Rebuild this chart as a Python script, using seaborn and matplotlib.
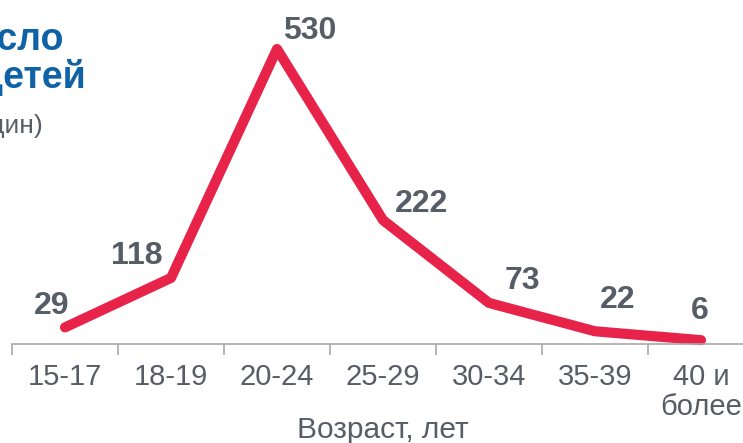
import numpy as np
import pandas as pd
import seaborn as sns
import matplotlib.pyplot as plt

# Age groups and births (thousands)
age_groups = ["15-17", "18-19", "20-24", "25-29", "30-34", "35-39", "40 и\nболее"]
births = [29, 118, 530, 222, 73, 22, 6]

# label offsets in pixels relative to each point
label_dx = [-13, -34, 33, 39, 33, 23, -1]
label_dy = [21, 22, 18, 16, 22, 31, 29]

RED = "#E8234A"
GREY = "#565D66"
BLUE = "#0F62A6"

sns.set_theme(style="white")
plt.rcParams["font.family"] = ["Liberation Sans", "DejaVu Sans"]

W, H = 743, 443
fig = plt.figure(figsize=(W / 100, H / 100), dpi=100)
ax = fig.add_axes([12 / W, 1 - 343.5 / H, 742 / W, 333.4 / H])

df = pd.DataFrame({"age": age_groups, "births": births})
sns.lineplot(data=df, x="age", y="births", ax=ax, color=RED, linewidth=7.3,
             sort=False, clip_on=False, solid_capstyle="round", solid_joinstyle="round")

for i, v in enumerate(births):
    ax.annotate(str(v), (i, v), xytext=(label_dx[i], label_dy[i]),
                textcoords="offset pixels", ha="center", va="center",
                fontsize=23, fontweight="bold", color=GREY)

ax.set_xlim(-0.5, 6.5)
ax.set_ylim(0, 600)
ax.set_yticks([])
ax.set_ylabel("")
for s in ["top", "left", "right"]:
    ax.spines[s].set_visible(False)
ax.spines["bottom"].set_color("#A8A8A8")
ax.spines["bottom"].set_linewidth(1.2)

ax.set_xticks(range(len(age_groups)))
ax.set_xticklabels(age_groups, linespacing=1.1)
ax.set_xticks(np.arange(-0.5, 7, 1), minor=True)
ax.tick_params(axis="x", which="major", length=0, pad=14, labelsize=21, labelcolor=GREY)
ax.tick_params(axis="x", which="minor", length=8, width=1.2, color="#A8A8A8", direction="out", bottom=True)

ax.set_xlabel("Возраст, лет", fontsize=21.5, color=GREY)
ax.xaxis.set_label_coords(0.5, -0.218)

# cropped title at top left
fig.text(63 / W, 1 - 50 / H, "Число", ha="right", va="baseline",
         fontsize=27, fontweight="bold", color=BLUE)
fig.text(86 / W, 1 - 88 / H, "рожденных детей", ha="right", va="baseline",
         fontsize=27, fontweight="bold", color=BLUE)
fig.text(43 / W, 1 - 133 / H, "(тыс. един)", ha="right", va="baseline",
         fontsize=19, color=GREY)

fig.savefig("out.png", dpi=100)
